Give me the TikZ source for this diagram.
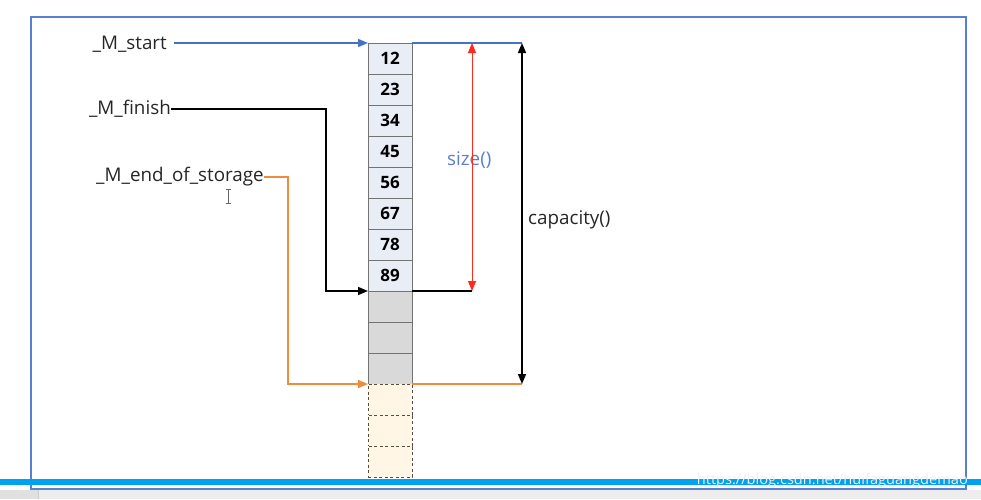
\documentclass[tikz,border=0pt]{standalone}
\usepackage{fontspec}
\setmainfont{Open Sans}
\usetikzlibrary{arrows.meta,calc}
\definecolor{frameblue}{HTML}{5B7FD0}
\definecolor{lineblue}{HTML}{4472C4}
\definecolor{sizeblue}{HTML}{5B7FCC}
\definecolor{orangeln}{HTML}{F08A3C}
\definecolor{redln}{HTML}{FF2A1A}
\definecolor{cellfill}{HTML}{E9EDF6}
\definecolor{grayfill}{HTML}{D9D9D9}
\definecolor{spare}{HTML}{FFF6E6}
\definecolor{dashbrown}{HTML}{5A4A42}
\definecolor{cyanbar}{HTML}{00A2F0}
\tikzset{
  x=1pt, y=-1pt,
  lbl/.style={font=\fontsize{18.8}{21}\selectfont, inner sep=0pt, text=black!85},
  cellbox/.style={draw=black!55, line width=1pt, outer sep=0pt, minimum width=44pt, minimum height=31pt, inner sep=0pt, font=\bfseries\fontsize{17}{19}\selectfont},
  usedcell/.style={cellbox, fill=cellfill},
  freecell/.style={cellbox, fill=grayfill},
  sparecell/.style={cellbox, fill=spare, draw=dashbrown, dash pattern=on 3pt off 2.5pt},
  tip/.style={-{Triangle[length=10pt,width=8pt]}},
  bluewire/.style={draw=lineblue, line width=1.5pt},
  blackwire/.style={draw=black, line width=1.6pt},
  orangewire/.style={draw=orangeln, line width=1.5pt},
}
\begin{document}
\begin{tikzpicture}
\useasboundingbox (0,0) rectangle (981,499);
\fill[white] (0,0) rectangle (981,499);
% frame
\draw[frameblue, line width=2pt] (31,17) rectangle (966,489);
% cells
\foreach \v [count=\i from 0] in {12,23,34,45,56,67,78,89} {
  \node[usedcell] (c\i) at (390,{43+31*\i+15.5}) {\v};
}
\foreach \i in {8,9,10} {
  \node[freecell] (c\i) at (390,{43+31*\i+15.5}) {};
}
\foreach \i in {11,12,13} {
  \node[sparecell] (c\i) at (390,{43+31*\i+15.5}) {};
}
% labels
\node[lbl, anchor=east] (start) at (167,44) {\_M\_start};
\node[lbl, anchor=east] (finish) at (171,109) {\_M\_finish};
\node[lbl, anchor=east] (eos) at (264,177) {\_M\_end\_of\_storage};
\node[lbl, anchor=west, text=sizeblue] (size) at (447,160) {size()};
\node[lbl, anchor=west] (cap) at (528,220) {capacity()};
% coordinates
\coordinate (sline) at ($(start.east)+(7,0)$);
\coordinate (fbend) at ($(c8.north west)+(-42,0)$);
\coordinate (ebend) at ($(c11.north west)+(-80,0)$);
\coordinate (szTop) at ($(c0.north east)+(60,0)$);
\coordinate (szBot) at ($(c8.north east)+(60,0)$);
\coordinate (capTop) at ($(c0.north east)+(110,0)$);
\coordinate (capBot) at ($(c11.north east)+(110,0)$);
% pointers
\draw[bluewire, tip] (sline |- c0.north west) -- (c0.north west);
\draw[blackwire, tip] (finish.east) -| (fbend) -- (c8.north west);
\draw[orangewire, tip] (eos.east) -| (ebend) -- (c11.north west);
% right side
\draw[bluewire] (c0.north east) -- (capTop);
\draw[blackwire] (c8.north east) -- (szBot);
\draw[orangewire] (c11.north east) -- (capBot);
\draw[draw=redln, line width=0.9pt, fill=redln, {Triangle[length=10pt,width=8pt]}-{Triangle[length=10pt,width=8pt]}] (szTop) -- (szBot);
\draw[black, line width=1.6pt, {Triangle[length=10pt,width=8pt]}-{Triangle[length=10pt,width=8pt]}] (capTop) -- (capBot);
% text cursor
\draw[black!60, line width=0.8pt] (228,189) -- (228,203) (225.5,189) -- (230.5,189) (225.5,203) -- (230.5,203);
% bottom bar and strip
\fill[cyanbar] (0,479) rectangle (981,484.5);
\node[anchor=east, inner sep=0pt, text=white!88!gray, font=\fontsize{14.6}{15}\selectfont] (wm) at (968,481) {https://blog.csdn.net/huifaguangdemao};
\fill[black!7] (0,490) rectangle (981,499);
\fill[black!12] (0,490) rectangle (38,499);
\draw[black!20, line width=0.6pt] (38,490) -- (38,499);
\end{tikzpicture}
\end{document}
